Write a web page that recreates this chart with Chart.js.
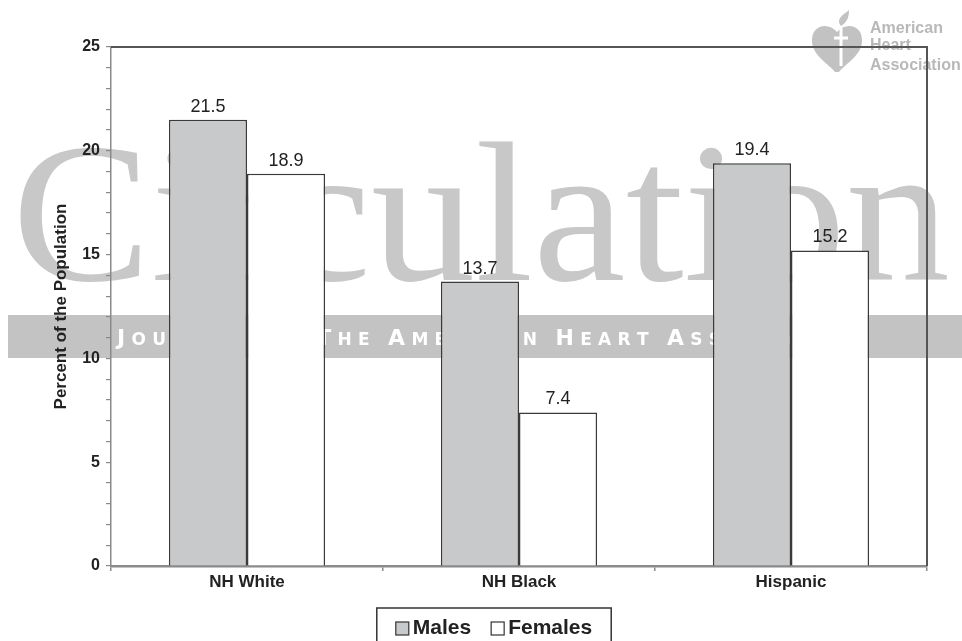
<!DOCTYPE html>
<html>
<head>
<meta charset="utf-8">
<script src="https://cdn.jsdelivr.net/npm/chart.js@4.4.1/dist/chart.umd.min.js"></script>
<style>
html,body{margin:0;padding:0;background:#fff;overflow:hidden}
#wrap{width:962px;height:641px;position:relative}
</style>
</head>
<body>
<div id="wrap"><canvas id="c"></canvas></div>
<script>
// ---- data ----
const categories = ['NH White', 'NH Black', 'Hispanic'];
const seriesNames = ['Males', 'Females'];
const males = [21.5, 13.7, 19.4];
const females = [18.9, 7.4, 15.2];
const yTickLabels = [0, 5, 10, 15, 20, 25];
const yAxisTitle = 'Percent of the Population';
const watermarkTitle = 'Circulation';
const watermarkSubtitle = 'JOURNAL OF THE AMERICAN HEART ASSOCIATION';
const logoLines = ['American', 'Heart', 'Association'];

const FONT = '"Liberation Sans", Arial, Helvetica, sans-serif';
const WIDE = '"DejaVu Sans", "Liberation Sans", Arial, sans-serif';
const SERIF = '"Liberation Serif", "Times New Roman", serif';
const WM = '#c8c8c8';

function drawSmallCaps(ctx, text, x, y, targetPrefix, targetX) {
  const big = `bold 22px ${WIDE}`, small = `bold 17px ${WIDE}`;
  const chars = [];
  text.split(' ').forEach((w, wi, arr) => {
    [...w].forEach((ch, i) => chars.push({ch: ch.toUpperCase(), font: i === 0 ? big : small}));
    if (wi < arr.length - 1) chars.push({ch: ' ', font: small});
  });
  chars.forEach(c => { ctx.font = c.font; c.w = ctx.measureText(c.ch).width; });
  let natural = 0;
  for (let i = 0; i < targetPrefix; i++) natural += chars[i].w;
  const s = (targetX - x - natural) / targetPrefix;
  let cx = x;
  chars.forEach(c => { ctx.font = c.font; ctx.fillText(c.ch, cx, y); cx += c.w + s; });
}

const watermarkPlugin = {
  id: 'watermark',
  beforeDraw(chart) {
    const ctx = chart.ctx;
    ctx.save();
    ctx.fillStyle = '#fff';
    ctx.fillRect(0, 0, chart.width, chart.height);
    // big title, stretched to span the page
    ctx.save();
    ctx.fillStyle = WM;
    ctx.textAlign = 'left';
    ctx.textBaseline = 'alphabetic';
    ctx.font = `200px ${SERIF}`;
    const w = ctx.measureText(watermarkTitle).width;
    ctx.translate(12, 280);
    ctx.scale((950 - 12) / w, 1);
    ctx.fillText(watermarkTitle, 0, 0);
    ctx.restore();
    // band
    ctx.fillStyle = '#c3c3c3';
    ctx.fillRect(8, 315, chart.width - 8, 43);
    ctx.fillStyle = '#ffffff';
    ctx.textAlign = 'left';
    ctx.textBaseline = 'alphabetic';
    const prefix = 'JOURNAL OF THE AMERICAN HEART '.length;
    drawSmallCaps(ctx, watermarkSubtitle, 117, 345, prefix, 667);
    // logo heart
    ctx.fillStyle = '#c2c2c2';
    const hx = 837, hy = 32;
    ctx.beginPath();
    ctx.moveTo(hx, hy);
    ctx.bezierCurveTo(hx - 8, hy - 10, hx - 26, hy - 8, hx - 25, hy + 10);
    ctx.bezierCurveTo(hx - 24, hy + 24, hx - 8, hy + 32, hx - 2, hy + 40);
    ctx.lineTo(hx + 2, hy + 40);
    ctx.bezierCurveTo(hx + 8, hy + 32, hx + 24, hy + 24, hx + 25, hy + 10);
    ctx.bezierCurveTo(hx + 26, hy - 8, hx + 8, hy - 10, hx, hy);
    ctx.fill();
    // torch
    ctx.strokeStyle = '#ffffff';
    ctx.lineWidth = 3;
    ctx.beginPath();
    ctx.moveTo(hx + 4, hy - 4); ctx.lineTo(hx + 4, hy + 34);
    ctx.moveTo(hx - 3, hy + 6); ctx.lineTo(hx + 11, hy + 6);
    ctx.stroke();
    ctx.fillStyle = '#c2c2c2';
    ctx.beginPath();
    ctx.moveTo(hx + 4, hy - 6);
    ctx.bezierCurveTo(hx - 2, hy - 14, hx + 8, hy - 18, hx + 12, hy - 22);
    ctx.bezierCurveTo(hx + 12, hy - 14, hx + 10, hy - 10, hx + 4, hy - 6);
    ctx.fill();
    // logo text
    ctx.fillStyle = '#b8b8b8';
    ctx.font = `bold 16px ${FONT}`;
    ctx.fillText(logoLines[0], 870, 33);
    ctx.fillText(logoLines[1], 870, 50);
    ctx.fillText(logoLines[2], 870, 70);
    ctx.restore();
  }
};

const labelsPlugin = {
  id: 'valueLabels',
  afterDatasetsDraw(chart) {
    const ctx = chart.ctx;
    ctx.save();
    ctx.fillStyle = '#222';
    ctx.font = `18px ${FONT}`;
    ctx.textAlign = 'center';
    ctx.textBaseline = 'alphabetic';
    chart.data.datasets.forEach((ds, di) => {
      chart.getDatasetMeta(di).data.forEach((el, i) => {
        ctx.fillText(ds.data[i].toFixed(1), el.x, el.y - 8);
      });
    });
    ctx.restore();
  }
};

const framePlugin = {
  id: 'frame',
  afterDraw(chart) {
    const ctx = chart.ctx, a = chart.chartArea;
    ctx.save();
    ctx.strokeStyle = '#555';
    ctx.lineWidth = 2;
    ctx.beginPath();
    ctx.moveTo(a.left, a.top);
    ctx.lineTo(a.right, a.top);
    ctx.lineTo(a.right, a.bottom);
    ctx.stroke();
    ctx.restore();

    // legend box
    const dsets = chart.data.datasets;
    ctx.save();
    ctx.font = `bold 21px ${FONT}`;
    const sq = 13, gap = 4, between = 20, padX = 19;
    let total = 0;
    dsets.forEach((d, i) => {
      total += sq + gap + ctx.measureText(d.label).width;
      if (i < dsets.length - 1) total += between;
    });
    const boxW = total + padX * 2;
    const cx = (a.left + a.right) / 2 - 25;
    const top = chart.scales.x.bottom + 12;
    const left = cx - boxW / 2;
    ctx.strokeStyle = '#333';
    ctx.lineWidth = 1.5;
    ctx.strokeRect(left, top, boxW, 60);
    let x = left + padX;
    const base = top + 26;
    dsets.forEach((d) => {
      ctx.fillStyle = d.backgroundColor;
      ctx.fillRect(x, base - 12, sq, sq);
      ctx.strokeStyle = '#333';
      ctx.lineWidth = 1.2;
      ctx.strokeRect(x, base - 12, sq, sq);
      x += sq + gap;
      ctx.fillStyle = '#222';
      ctx.textBaseline = 'alphabetic';
      ctx.textAlign = 'left';
      ctx.fillText(d.label, x, base);
      x += ctx.measureText(d.label).width + between;
    });
    ctx.restore();
  }
};

new Chart(document.getElementById('c'), {
  type: 'bar',
  data: {
    labels: categories,
    datasets: [
      {label: seriesNames[0], data: males, backgroundColor: '#c8c9cb', borderColor: '#3a3a3a', borderWidth: 1.5},
      {label: seriesNames[1], data: females, backgroundColor: '#ffffff', borderColor: '#3a3a3a', borderWidth: 1.5}
    ]
  },
  options: {
    responsive: true,
    maintainAspectRatio: false,
    animation: false,
    events: [],
    categoryPercentage: 0.574,
    barPercentage: 1.0,
    layout: {padding: {top: 47, right: 35, bottom: 45, left: 0}},
    plugins: {legend: {display: false}, tooltip: {enabled: false}},
    scales: {
      x: {
        afterFit(s) { s.height = 30; },
        ticks: {padding: 1, color: '#222', font: {family: FONT, size: 17, weight: 'bold'}},
        grid: {offset: true, drawOnChartArea: false, drawTicks: true, tickLength: 5, color: '#8a8a8a', lineWidth: 1.5},
        border: {display: true, color: '#8a8a8a', width: 2.5}
      },
      y: {
        min: 0, max: 25,
        afterFit(s) { s.width = 111; },
        ticks: {
          stepSize: 1, maxTicksLimit: 30, autoSkip: false, padding: 6, color: '#222',
          font: {family: FONT, size: 16, weight: 'bold'},
          callback: (v) => yTickLabels.includes(v) ? String(v) : ''
        },
        grid: {drawOnChartArea: false, drawTicks: true, tickLength: 5, color: '#8a8a8a', lineWidth: 1.2},
        border: {display: true, color: '#8a8a8a', width: 1.5},
        title: {display: true, text: yAxisTitle, color: '#222', font: {family: FONT, size: 17, weight: 'bold'}, padding: {top: 51, bottom: 0}}
      }
    }
  },
  plugins: [watermarkPlugin, labelsPlugin, framePlugin]
});
</script>
</body>
</html>
